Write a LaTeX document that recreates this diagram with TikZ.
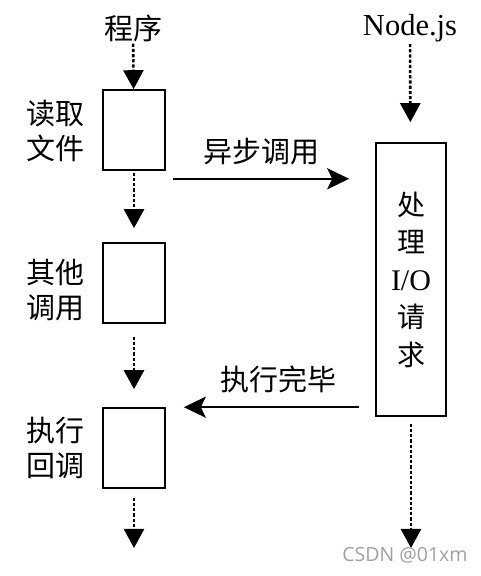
\documentclass[tikz,border=0pt]{standalone}
\usepackage{fontspec}
\setmainfont{Liberation Serif}
\newfontfamily\cjk{Noto Sans CJK SC}
\newfontfamily\wmfont{Open Sans}
\usepackage{tikz}
\usetikzlibrary{arrows.meta,positioning,calc}
\definecolor{markGray}{HTML}{A0A0A0}

\begin{document}
\begin{tikzpicture}[x=1pt, y=1pt, font=\fontsize{30.5}{36}\selectfont,
  blk/.style={draw, line width=1.6pt, minimum width=62pt, minimum height=80pt, inner sep=0pt},
  iobox/.style={draw, line width=1.6pt, minimum width=70pt, minimum height=273pt, inner sep=0pt, align=center, font=\cjk\fontsize{28}{37.5}\selectfont},
  side/.style={font=\cjk\fontsize{29}{35}\selectfont, align=center, inner sep=2pt},
  dotarrow/.style={line width=2.6pt, dash pattern=on 3.2pt off 2pt, -{Triangle[length=19pt,width=20pt]}},
  callarrow/.style={line width=2.2pt, -{Stealth[length=22pt,width=21pt,inset=5pt]}}]
\useasboundingbox (0,0) rectangle (480,576);
% program side
\node[side] (prog) at (133,548) {程序};
\node[blk] (read) at (134,446) {};
\node[blk] (other) at (134,293) {};
\node[blk] (cb) at (134,128) {};
\node[side] (readlbl) at (56,445) {读取\\文件};
\node[side] (otherlbl) at (56,286) {其他\\调用};
\node[side] (cblbl) at (56,128) {执行\\回调};
\coordinate (cbout) at (134,28);
\draw[dotarrow] (prog) -- (read);
\draw[dotarrow, shorten <=2pt, shorten >=14pt] (read) -- (other);
\draw[dotarrow, shorten <=13pt, shorten >=18pt] (other) -- (cb);
\draw[dotarrow, shorten <=9pt] (cb) -- (cbout);
% node.js side
\node[inner sep=2pt] (nodejs) at (410,548) {Node.js};
\node[iobox] (io) at (411,296.5) {处\\理\\{\rmfamily\fontsize{30}{37.5}\selectfont I/O}\\请\\求};
\coordinate (ioout) at (411,28);
\draw[dotarrow, shorten >=20pt] (nodejs) -- (io);
\draw[dotarrow, shorten <=7pt] (io) -- (ioout);
% calls between
\draw[callarrow] ($(read.south east)+(7,-8)$) -- ($(read.south east -| io.west)+(-26,-8)$)
  node[midway, above=11pt, side] (asynclbl) {异步调用};
\draw[callarrow] ($(cb.north -| io.west)+(-16,0)$) -- ($(cb.north east)+(18,0)$)
  node[pos=0.46, above=11pt, side] (donelbl) {执行完毕};
\node[markGray, font=\wmfont\fontsize{19.5}{20}\selectfont] (mark) at (405,21) {CSDN @01xm};
\end{tikzpicture}
\end{document}
